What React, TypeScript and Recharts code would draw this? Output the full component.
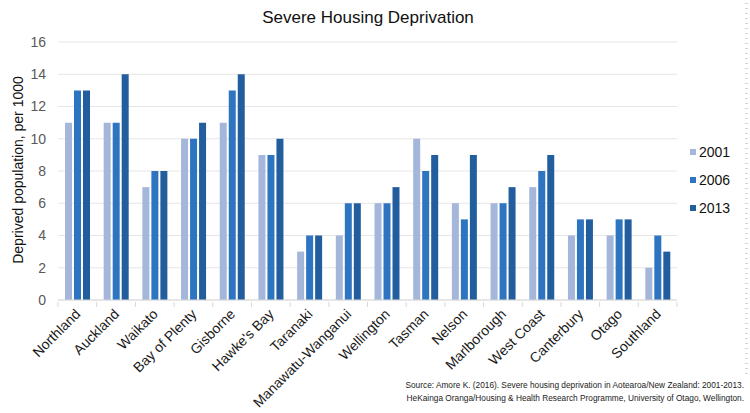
import { BarChart, Bar, XAxis, YAxis, CartesianGrid } from "recharts";

// ── data ──────────────────────────────────────────────────────────────────────
const regions = [
  "Northland", "Auckland", "Waikato", "Bay of Plenty", "Gisborne", "Hawke's Bay",
  "Taranaki", "Manawatu-Wanganui", "Wellington", "Tasman", "Nelson", "Marlborough",
  "West Coast", "Canterbury", "Otago", "Southland",
];
const y2001 = [11, 11, 7, 10, 11, 9, 3, 4, 6, 10, 6, 6, 7, 4, 4, 2];
const y2006 = [13, 11, 8, 10, 13, 9, 4, 6, 6, 8, 5, 6, 8, 5, 5, 4];
const y2013 = [13, 14, 8, 11, 14, 10, 4, 6, 7, 9, 9, 7, 9, 5, 5, 3];
const yTicks = [0, 2, 4, 6, 8, 10, 12, 14, 16];

const series = [
  { key: "y2001", name: "2001", color: "#a4b6da" },
  { key: "y2006", name: "2006", color: "#2e75c1" },
  { key: "y2013", name: "2013", color: "#225e9e" },
];

const rows = regions.map((region, i) => ({
  region,
  y2001: y2001[i],
  y2006: y2006[i],
  y2013: y2013[i],
}));

const FONT = "'Liberation Sans', Arial, Helvetica, sans-serif";

// ── x tick: rotated label + boundary tick marks ───────────────────────────────
function RegionTick(props: any) {
  const { x, y, payload, index, visibleTicksCount } = props;
  const half = payload?.offset ?? 19.35;
  const isLast = index === (visibleTicksCount ?? regions.length) - 1;
  return (
    <g>
      <line x1={x - half} x2={x - half} y1={y} y2={y + 5} stroke="#d9d9d9" />
      {isLast && <line x1={x + half} x2={x + half} y1={y} y2={y + 5} stroke="#d9d9d9" />}
      <text
        x={x + 4}
        y={y + 13}
        textAnchor="end"
        fontSize={14}
        fill="#1a1a1a"
        fontFamily={FONT}
        transform={`rotate(-45, ${x + 4}, ${y + 13})`}
      >
        {payload.value}
      </text>
    </g>
  );
}

export default function App() {
  return (
    <div style={{ position: "absolute", left: 0, top: 0, width: 750, height: 413, background: "#fff", fontFamily: FONT }}>
      <div style={{ position: "absolute", top: 8, left: 0, width: 736, textAlign: "center", fontSize: 17, color: "#111" }}>
        Severe Housing Deprivation
      </div>
      <div style={{ position: "absolute", left: 18, top: 170, width: 0, height: 0 }}>
        <div
          style={{
            position: "absolute", left: 0, top: 0, transform: "translate(-50%, -50%) rotate(-90deg)",
            whiteSpace: "nowrap", fontSize: 14, color: "#111",
          }}
        >
          Deprived population, per 1000
        </div>
      </div>
      <BarChart
        width={750}
        height={413}
        data={rows}
        margin={{ top: 42, right: 73, bottom: 0, left: 0 }}
        barGap={2}
        barSize={7}
      >
        <CartesianGrid vertical={false} stroke="#e6e6e6" />
        <XAxis
          dataKey="region"
          interval={0}
          height={113}
          axisLine={{ stroke: "#d9d9d9" }}
          tickLine={false}
          tickSize={0}
          tick={<RegionTick />}
        />
        <YAxis
          width={58}
          domain={[0, 16]}
          ticks={yTicks}
          interval={0}
          axisLine={false}
          tickLine={false}
          tickSize={0}
          tickMargin={12}
          tick={{ fill: "#595959", fontSize: 14, fontFamily: FONT }}
        />
        {series.map((s) => (
          <Bar key={s.key} dataKey={s.key} name={s.name} fill={s.color} isAnimationActive={false} />
        ))}
      </BarChart>
      <div style={{ position: "absolute", left: 690, top: 138, fontSize: 14, color: "#111" }}>
        {series.map((s) => (
          <div key={s.key} style={{ display: "flex", alignItems: "center", height: 28 }}>
            <span style={{ width: 6, height: 6, background: s.color, marginRight: 3 }} />
            {s.name}
          </div>
        ))}
      </div>
      <div
        style={{
          position: "absolute", right: 6, top: 379, textAlign: "right", fontSize: 8.3,
          lineHeight: "13px", color: "#222", whiteSpace: "nowrap",
        }}
      >
        Source: Amore K. (2016). Severe housing deprivation in Aotearoa/New Zealand: 2001-2013.
        <br />
        HeKainga Oranga/Housing &amp; Health Research Programme, University of Otago, Wellington.
      </div>
      <div
        style={{
          position: "absolute", left: 745, top: 3, width: 3, height: 374,
          background: "repeating-linear-gradient(to bottom, #d6d6d6 0 1px, transparent 1px 5px)",
        }}
      />
    </div>
  );
}
